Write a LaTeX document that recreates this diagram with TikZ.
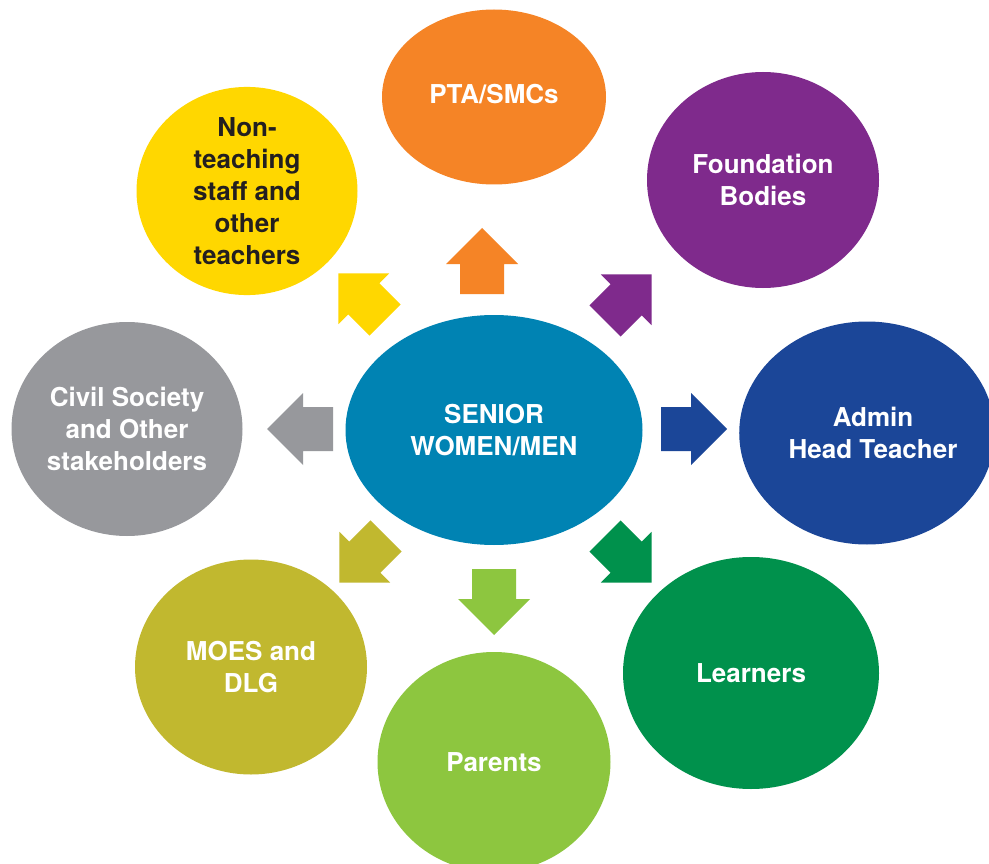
\documentclass[tikz,border=0pt]{standalone}
\usepackage{fontspec}
\setmainfont{TeX Gyre Heros}
\usetikzlibrary{shapes.geometric}

\definecolor{cCenter}{HTML}{0083B3}
\definecolor{cOrange}{HTML}{F58426}
\definecolor{cPurple}{HTML}{7F2A8C}
\definecolor{cBlue}{HTML}{1B4698}
\definecolor{cGreen}{HTML}{00914C}
\definecolor{cLime}{HTML}{8DC63F}
\definecolor{cOlive}{HTML}{C1B82F}
\definecolor{cGrey}{HTML}{97989C}
\definecolor{cYellow}{HTML}{FFD700}
\definecolor{cInk}{HTML}{231F20}

\tikzset{
  bubble/.style={ellipse, inner sep=0pt, align=center, text=white,
    font=\fontsize{26}{32}\selectfont\bfseries},
  % block arrow: tail centre at the origin, tip pointing along +x
  pics/blockarrow/.style={code={
    \fill (0,-22) -- (30,-22) -- (30,-36) -- (66,0) -- (30,36) -- (30,22) -- (0,22) -- cycle;
  }}
}

\begin{document}
\begin{tikzpicture}[x=1pt, y=-1pt]
  \clip (0,0) rectangle (989,864);
  \fill[white] (0,0) rectangle (989,864);

  % surrounding groups
  \node[bubble, fill=cOrange, minimum width=224, minimum height=175] (pta) at (494,97) {\raisebox{7pt}{PTA/SMCs}};
  \node[bubble, fill=cPurple, minimum width=232, minimum height=216] (found) at (763,180) {Foundation\\Bodies};
  \node[bubble, fill=cBlue, minimum width=243, minimum height=223] (admin) at (867,433) {\hspace*{12pt}Admin\\\hspace*{12pt}Head Teacher};
  \node[bubble, fill=cGreen, minimum width=256, minimum height=232] (learn) at (751,673) {Learners};
  \node[bubble, fill=cLime, minimum width=233, minimum height=220] (parents) at (494,762) {Parents};
  \node[bubble, fill=cOlive, minimum width=232, minimum height=215] (moes) at (251,667) {MOES and\\DLG};
  \node[bubble, fill=cGrey, minimum width=231, minimum height=214] (civil) at (127,429) {Civil Society\\and Other\\stakeholders};
  \node[bubble, fill=cYellow, text=cInk, minimum width=221, minimum height=204] (nonteach) at (247,191) {Non-\\teaching\\staff and\\other\\teachers};

  % central group
  \node[bubble, fill=cCenter, minimum width=297, minimum height=230] (center) at (494,430) {SENIOR\\WOMEN/MEN};

  % arrows radiating from the centre
  \pic[fill=cOrange, rotate=90]   (aPta)     at (482,294) {blockarrow};
  \pic[fill=cPurple, rotate=45]   (aFound)   at (605,321) {blockarrow};
  \pic[fill=cBlue,   rotate=0]    (aAdmin)   at (661,429) {blockarrow};
  \pic[fill=cGreen,  rotate=-45]  (aLearn)   at (605,536) {blockarrow};
  \pic[fill=cLime,   rotate=-90]  (aParents) at (494,569) {blockarrow};
  \pic[fill=cOlive,  rotate=-135] (aMoes)    at (386,536) {blockarrow};
  \pic[fill=cGrey,   rotate=180]  (aCivil)   at (333,429) {blockarrow};
  \pic[fill=cYellow, rotate=135]  (aNon)     at (385,320) {blockarrow};
\end{tikzpicture}
\end{document}
